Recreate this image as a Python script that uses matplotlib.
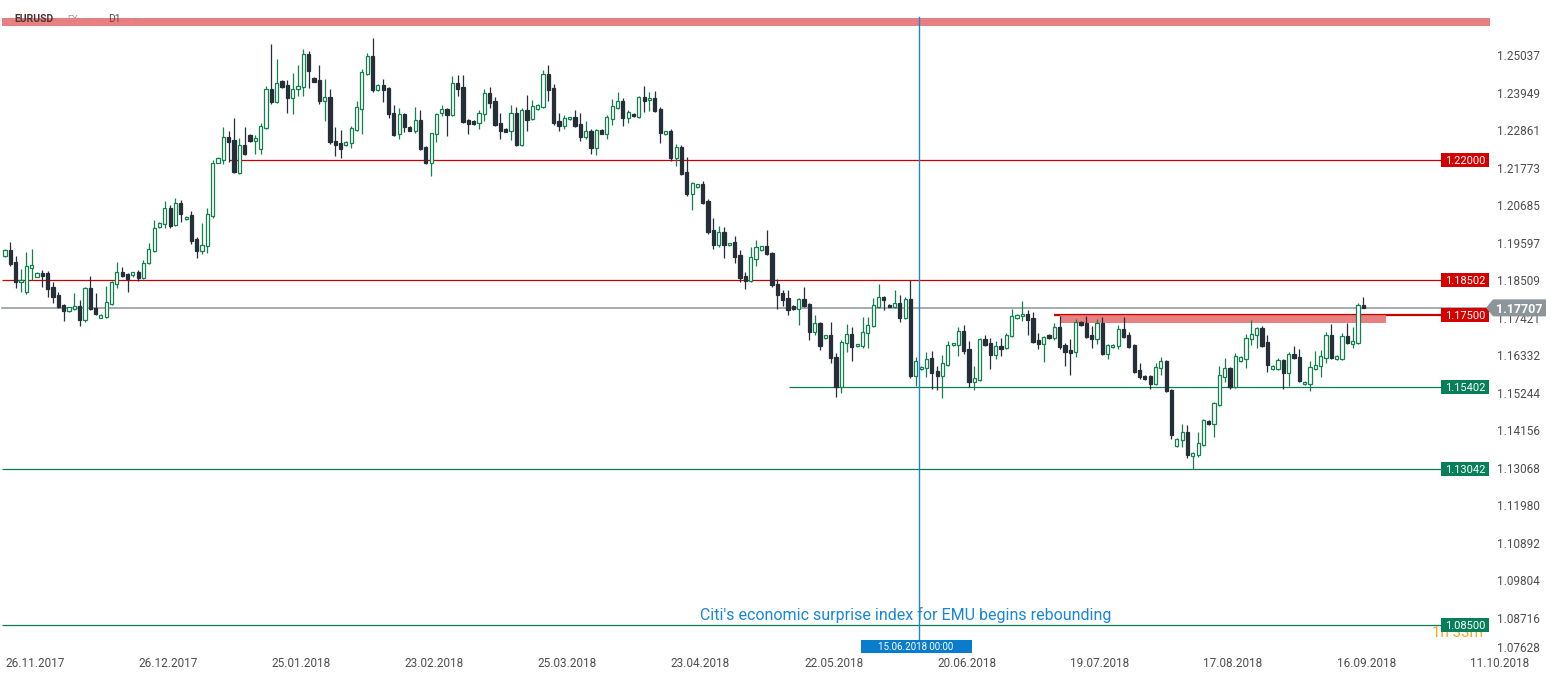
import matplotlib
matplotlib.use("Agg")
import matplotlib.pyplot as plt
import matplotlib.transforms as mtransforms
from matplotlib.patches import Rectangle, Polygon
import numpy as np

plt.rcParams['font.family'] = ['Roboto', 'DejaVu Sans']

#------------------- DATA ----------------------------------------
# EURUSD daily candles (xStation style, Sunday bars included)
opens = [1.1921, 1.1939, 1.1904, 1.1846, 1.1817, 1.1886, 1.1860, 1.1872, 1.1872, 1.1831,
         1.1808, 1.1779, 1.1762, 1.1767, 1.1776, 1.1736, 1.1828, 1.1770, 1.1741, 1.1744,
         1.1782, 1.1840, 1.1875, 1.1869, 1.1866, 1.1875, 1.1857, 1.1901, 1.1936, 1.2005,
         1.2014, 1.2060, 1.2011, 1.2075, 1.2028, 1.2040, 1.1970, 1.1936, 1.1950, 1.2037,
         1.2192, 1.2199, 1.2265, 1.2258, 1.2163, 1.2244, 1.2272, 1.2256, 1.2231, 1.2292,
         1.2405, 1.2368, 1.2429, 1.2417, 1.2379, 1.2405, 1.2411, 1.2507, 1.2437, 1.2432,
         1.2371, 1.2382, 1.2255, 1.2249, 1.2243, 1.2249, 1.2287, 1.2347, 1.2449, 1.2501,
         1.2403, 1.2417, 1.2408, 1.2336, 1.2275, 1.2333, 1.2295, 1.2284, 1.2316, 1.2237,
         1.2191, 1.2275, 1.2336, 1.2347, 1.2330, 1.2423, 1.2411, 1.2316, 1.2313, 1.2307,
         1.2333, 1.2394, 1.2371, 1.2307, 1.2289, 1.2284, 1.2336, 1.2243, 1.2345, 1.2318,
         1.2347, 1.2353, 1.2449, 1.2408, 1.2313, 1.2298, 1.2318, 1.2324, 1.2304, 1.2266,
         1.2284, 1.2234, 1.2287, 1.2275, 1.2318, 1.2350, 1.2371, 1.2321, 1.2333, 1.2324,
         1.2382, 1.2374, 1.2379, 1.2347, 1.2275, 1.2284, 1.2205, 1.2237, 1.2165, 1.2101,
         1.2121, 1.2130, 1.2081, 1.1996, 1.1953, 1.1991, 1.1953, 1.1961, 1.1924, 1.1863,
         1.1849, 1.1912, 1.1939, 1.1950, 1.1930, 1.1840, 1.1814, 1.1799, 1.1776, 1.1767,
         1.1796, 1.1782, 1.1701, 1.1727, 1.1683, 1.1692, 1.1628, 1.1541, 1.1669, 1.1695,
         1.1660, 1.1660, 1.1698, 1.1718, 1.1773, 1.1802, 1.1779, 1.1773, 1.1785, 1.1741,
         1.1796, 1.1573, 1.1593, 1.1596, 1.1625, 1.1588, 1.1573, 1.1605, 1.1663, 1.1663,
         1.1704, 1.1651, 1.1556, 1.1562, 1.1680, 1.1669, 1.1634, 1.1660, 1.1654, 1.1689,
         1.1741, 1.1747, 1.1753, 1.1741, 1.1678, 1.1666, 1.1692, 1.1683, 1.1715, 1.1663,
         1.1649, 1.1643, 1.1730, 1.1727, 1.1692, 1.1680, 1.1727, 1.1637, 1.1657, 1.1660,
         1.1709, 1.1692, 1.1663, 1.1591, 1.1573, 1.1573, 1.1550, 1.1596, 1.1617, 1.1533,
         1.1370, 1.1387, 1.1411, 1.1341, 1.1344, 1.1373, 1.1443, 1.1434, 1.1489, 1.1570,
         1.1596, 1.1541, 1.1617, 1.1622, 1.1680, 1.1692, 1.1712, 1.1672, 1.1593, 1.1593,
         1.1620, 1.1582, 1.1637, 1.1628, 1.1550, 1.1550, 1.1593, 1.1602, 1.1625, 1.1692,
         1.1622, 1.1622, 1.1689, 1.1666, 1.1669, 1.1779]
highs = [1.1941, 1.1962, 1.1921, 1.1883, 1.1933, 1.1941, 1.1875, 1.1881, 1.1878, 1.1846,
         1.1817, 1.1782, 1.1773, 1.1814, 1.1794, 1.1831, 1.1863, 1.1814, 1.1753, 1.1834,
         1.1849, 1.1904, 1.1889, 1.1872, 1.1875, 1.1881, 1.1910, 1.1959, 1.2026, 1.2020,
         1.2080, 1.2069, 1.2089, 1.2084, 1.2037, 1.2052, 1.1976, 1.2017, 1.2060, 1.2200,
         1.2208, 1.2294, 1.2284, 1.2320, 1.2262, 1.2295, 1.2275, 1.2272, 1.2306, 1.2414,
         1.2536, 1.2492, 1.2432, 1.2432, 1.2452, 1.2475, 1.2521, 1.2516, 1.2440, 1.2475,
         1.2434, 1.2405, 1.2295, 1.2287, 1.2255, 1.2298, 1.2371, 1.2463, 1.2510, 1.2553,
         1.2420, 1.2434, 1.2411, 1.2359, 1.2350, 1.2336, 1.2298, 1.2353, 1.2345, 1.2240,
         1.2278, 1.2336, 1.2359, 1.2350, 1.2443, 1.2446, 1.2446, 1.2318, 1.2316, 1.2345,
         1.2406, 1.2411, 1.2382, 1.2336, 1.2292, 1.2359, 1.2353, 1.2350, 1.2388, 1.2374,
         1.2362, 1.2461, 1.2475, 1.2420, 1.2336, 1.2330, 1.2324, 1.2345, 1.2336, 1.2313,
         1.2289, 1.2289, 1.2289, 1.2330, 1.2376, 1.2397, 1.2379, 1.2345, 1.2336, 1.2385,
         1.2414, 1.2397, 1.2400, 1.2353, 1.2284, 1.2289, 1.2246, 1.2243, 1.2208, 1.2136,
         1.2130, 1.2139, 1.2086, 1.2031, 1.2008, 1.2005, 1.1959, 1.1979, 1.1939, 1.1875,
         1.1947, 1.1967, 1.1950, 1.1997, 1.1933, 1.1854, 1.1822, 1.1822, 1.1779, 1.1799,
         1.1831, 1.1785, 1.1750, 1.1730, 1.1692, 1.1730, 1.1640, 1.1678, 1.1724, 1.1715,
         1.1666, 1.1744, 1.1744, 1.1799, 1.1840, 1.1805, 1.1782, 1.1822, 1.1808, 1.1802,
         1.1851, 1.1628, 1.1602, 1.1643, 1.1646, 1.1602, 1.1634, 1.1675, 1.1669, 1.1715,
         1.1721, 1.1675, 1.1602, 1.1683, 1.1692, 1.1683, 1.1675, 1.1683, 1.1698, 1.1767,
         1.1753, 1.1791, 1.1765, 1.1759, 1.1698, 1.1689, 1.1695, 1.1727, 1.1747, 1.1669,
         1.1680, 1.1739, 1.1733, 1.1747, 1.1718, 1.1739, 1.1744, 1.1666, 1.1665, 1.1721,
         1.1744, 1.1701, 1.1666, 1.1611, 1.1576, 1.1576, 1.1611, 1.1628, 1.1619, 1.1535,
         1.1393, 1.1434, 1.1431, 1.1353, 1.1411, 1.1448, 1.1446, 1.1498, 1.1602, 1.1625,
         1.1599, 1.1640, 1.1630, 1.1695, 1.1736, 1.1715, 1.1718, 1.1692, 1.1604, 1.1625,
         1.1622, 1.1643, 1.1660, 1.1651, 1.1558, 1.1617, 1.1646, 1.1649, 1.1701, 1.1724,
         1.1633, 1.1698, 1.1727, 1.1715, 1.1785, 1.1802]
lows = [1.1918, 1.1892, 1.1828, 1.1817, 1.1811, 1.1852, 1.1860, 1.1831, 1.1802, 1.1785,
        1.1770, 1.1732, 1.1759, 1.1765, 1.1718, 1.1730, 1.1765, 1.1750, 1.1741, 1.1741,
        1.1779, 1.1828, 1.1860, 1.1817, 1.1860, 1.1849, 1.1854, 1.1898, 1.1933, 1.2002,
        1.2002, 1.2002, 1.2008, 1.2020, 1.2026, 1.1956, 1.1915, 1.1927, 1.1930, 1.2031,
        1.2191, 1.2188, 1.2195, 1.2163, 1.2160, 1.2214, 1.2252, 1.2216, 1.2216, 1.2290,
        1.2362, 1.2365, 1.2409, 1.2336, 1.2333, 1.2385, 1.2385, 1.2408, 1.2426, 1.2362,
        1.2313, 1.2246, 1.2211, 1.2205, 1.2240, 1.2234, 1.2284, 1.2275, 1.2446, 1.2397,
        1.2400, 1.2368, 1.2321, 1.2269, 1.2260, 1.2281, 1.2284, 1.2278, 1.2228, 1.2188,
        1.2153, 1.2252, 1.2327, 1.2269, 1.2327, 1.2385, 1.2307, 1.2275, 1.2302, 1.2289,
        1.2313, 1.2350, 1.2298, 1.2260, 1.2281, 1.2258, 1.2240, 1.2240, 1.2284, 1.2316,
        1.2344, 1.2350, 1.2371, 1.2301, 1.2284, 1.2289, 1.2316, 1.2295, 1.2255, 1.2260,
        1.2217, 1.2214, 1.2275, 1.2260, 1.2301, 1.2347, 1.2298, 1.2307, 1.2324, 1.2321,
        1.2339, 1.2342, 1.2339, 1.2249, 1.2272, 1.2197, 1.2182, 1.2156, 1.2095, 1.2055,
        1.2118, 1.2072, 1.1985, 1.1941, 1.1947, 1.1915, 1.1950, 1.1901, 1.1846, 1.1825,
        1.1846, 1.1892, 1.1936, 1.1925, 1.1831, 1.1767, 1.1776, 1.1750, 1.1765, 1.1721,
        1.1773, 1.1678, 1.1692, 1.1649, 1.1680, 1.1611, 1.1512, 1.1524, 1.1643, 1.1617,
        1.1657, 1.1654, 1.1654, 1.1715, 1.1770, 1.1765, 1.1773, 1.1770, 1.1730, 1.1738,
        1.1567, 1.1544, 1.1591, 1.1570, 1.1535, 1.1532, 1.1509, 1.1602, 1.1660, 1.1631,
        1.1637, 1.1541, 1.1532, 1.1559, 1.1660, 1.1593, 1.1622, 1.1631, 1.1651, 1.1686,
        1.1738, 1.1733, 1.1692, 1.1669, 1.1651, 1.1614, 1.1680, 1.1678, 1.1651, 1.1602,
        1.1576, 1.1628, 1.1719, 1.1683, 1.1654, 1.1666, 1.1634, 1.1622, 1.1655, 1.1651,
        1.1683, 1.1655, 1.1582, 1.1564, 1.1562, 1.1535, 1.1547, 1.1576, 1.1527, 1.1390,
        1.1367, 1.1367, 1.1335, 1.1303, 1.1338, 1.1370, 1.1432, 1.1396, 1.1486, 1.1556,
        1.1535, 1.1538, 1.1614, 1.1596, 1.1663, 1.1654, 1.1657, 1.1585, 1.1591, 1.1590,
        1.1535, 1.1544, 1.1622, 1.1556, 1.1547, 1.1530, 1.1590, 1.1570, 1.1611, 1.1622,
        1.1620, 1.1620, 1.1666, 1.1654, 1.1666, 1.1770]
closes = [1.1939, 1.1898, 1.1846, 1.1852, 1.1892, 1.1895, 1.1872, 1.1863, 1.1825, 1.1802,
          1.1773, 1.1762, 1.1773, 1.1776, 1.1736, 1.1828, 1.1767, 1.1753, 1.1750, 1.1788,
          1.1846, 1.1875, 1.1863, 1.1854, 1.1875, 1.1857, 1.1901, 1.1941, 1.2002, 1.2017,
          1.2060, 1.2008, 1.2075, 1.2043, 1.2034, 1.1965, 1.1936, 1.1953, 1.2043, 1.2191,
          1.2205, 1.2265, 1.2253, 1.2165, 1.2243, 1.2217, 1.2255, 1.2263, 1.2298, 1.2405,
          1.2368, 1.2423, 1.2411, 1.2379, 1.2405, 1.2414, 1.2507, 1.2458, 1.2426, 1.2371,
          1.2382, 1.2252, 1.2243, 1.2231, 1.2252, 1.2292, 1.2353, 1.2455, 1.2501, 1.2403,
          1.2417, 1.2403, 1.2333, 1.2272, 1.2333, 1.2295, 1.2284, 1.2316, 1.2231, 1.2191,
          1.2278, 1.2333, 1.2347, 1.2330, 1.2423, 1.2405, 1.2310, 1.2304, 1.2304, 1.2336,
          1.2394, 1.2365, 1.2301, 1.2284, 1.2281, 1.2336, 1.2243, 1.2345, 1.2316, 1.2356,
          1.2359, 1.2449, 1.2403, 1.2307, 1.2298, 1.2321, 1.2324, 1.2298, 1.2266, 1.2284,
          1.2234, 1.2287, 1.2275, 1.2324, 1.2356, 1.2371, 1.2321, 1.2339, 1.2327, 1.2382,
          1.2371, 1.2379, 1.2342, 1.2278, 1.2284, 1.2205, 1.2237, 1.2159, 1.2101, 1.2133,
          1.2130, 1.2075, 1.1991, 1.1953, 1.1991, 1.1953, 1.1959, 1.1918, 1.1857, 1.1849,
          1.1918, 1.1947, 1.1950, 1.1927, 1.1837, 1.1808, 1.1793, 1.1765, 1.1767, 1.1796,
          1.1776, 1.1701, 1.1727, 1.1660, 1.1692, 1.1625, 1.1541, 1.1672, 1.1695, 1.1657,
          1.1666, 1.1701, 1.1721, 1.1779, 1.1802, 1.1793, 1.1773, 1.1785, 1.1741, 1.1796,
          1.1573, 1.1617, 1.1599, 1.1622, 1.1582, 1.1573, 1.1611, 1.1663, 1.1669, 1.1704,
          1.1646, 1.1556, 1.1567, 1.1680, 1.1663, 1.1634, 1.1660, 1.1651, 1.1692, 1.1747,
          1.1750, 1.1753, 1.1736, 1.1672, 1.1666, 1.1686, 1.1683, 1.1715, 1.1657, 1.1643,
          1.1640, 1.1730, 1.1721, 1.1686, 1.1680, 1.1727, 1.1637, 1.1663, 1.1663, 1.1709,
          1.1686, 1.1657, 1.1585, 1.1570, 1.1564, 1.1550, 1.1599, 1.1617, 1.1530, 1.1402,
          1.1390, 1.1411, 1.1344, 1.1350, 1.1379, 1.1446, 1.1434, 1.1495, 1.1576, 1.1596,
          1.1541, 1.1631, 1.1628, 1.1683, 1.1695, 1.1712, 1.1660, 1.1605, 1.1602, 1.1620,
          1.1582, 1.1637, 1.1625, 1.1559, 1.1556, 1.1599, 1.1605, 1.1631, 1.1692, 1.1625,
          1.1631, 1.1689, 1.1669, 1.1675, 1.1779, 1.17707]

# date labels every 25 bars (left aligned on their bar)
date_labels = ['26.11.2017', '26.12.2017', '25.01.2018', '23.02.2018', '25.03.2018',
               '23.04.2018', '22.05.2018', '20.06.2018', '19.07.2018', '17.08.2018',
               '16.09.2018', '11.10.2018']
date_step = 25

# price scale labels on the right
price_ticks = [1.25037, 1.23949, 1.22861, 1.21773, 1.20685, 1.19597, 1.18509, 1.17421,
               1.16332, 1.15244, 1.14156, 1.13068, 1.11980, 1.10892, 1.09804, 1.08716, 1.07628]

# horizontal levels: value, bar where the line starts, resistance / support
level_values = [1.22000, 1.18502, 1.17500, 1.15402, 1.13042, 1.08500]
level_starts = [42, -0.6, 197, 147.2, -0.6, -0.6]
level_kinds = ['res', 'res', 'res', 'sup', 'sup', 'sup']

last_price = 1.17707
zone_low, zone_high = 1.1728, 1.1749      # red zone under 1.175
zone_from, zone_to = 198.1, 259.3
band_low, band_high = 1.2588, 1.2611      # red band at the top

event_bar = 171                            # 15.06.2018
event_label = '15.06.2018 00:00'
event_text = "Citi's economic surprise index for EMU begins rebounding"
timer_text = '1h 33m'

#------------------- STYLE ----------------------------------------
GREEN = '#13804f'
DARK = '#262e37'
RED_LINE = '#c80000'
RED_BOX = '#d40000'
GREEN_LINE = '#0b7d57'
GREEN_BOX = '#07805a'
BLUE = '#1a86d8'
GRAY = '#8d959a'
TXT = '#4d4d4d'

W, H = 1557, 679
fig = plt.figure(figsize=(W / 100, H / 100), dpi=100)
ax = fig.add_axes([0, 23 / H, 1490 / W, 656 / H])
ax.set_xlim(-0.94, 278.8)
ax.set_ylim(1.07611, 1.26635)
for s in ax.spines.values():
    s.set_visible(False)
ax.set_yticks([])

PY = (1.26635 - 1.07611) / 656      # price per pixel
PXB = (278.8 + 0.94) / 1490         # bars per pixel
ax_y = mtransforms.blended_transform_factory(ax.transAxes, ax.transData)
x_ax = mtransforms.blended_transform_factory(ax.transData, ax.transAxes)

#------------------- CANDLES ----------------------------------------
o = np.array(opens); h = np.array(highs); l = np.array(lows); c = np.array(closes)
idx = np.arange(len(o))
up = c >= o
body_low = np.minimum(o, c)
body_h = np.maximum(np.abs(c - o), 0.00012)

ax.vlines(idx[up], l[up], h[up], color=GREEN, lw=0.9, zorder=3)
ax.vlines(idx[~up], l[~up], h[~up], color=DARK, lw=0.9, zorder=3)
ax.bar(idx[up], body_h[up], bottom=body_low[up], width=0.6, facecolor='white',
       edgecolor=GREEN, linewidth=0.9, zorder=4)
ax.bar(idx[~up], body_h[~up], bottom=body_low[~up], width=0.6, facecolor=DARK,
       edgecolor=DARK, linewidth=0.9, zorder=4)

#------------------- LEVELS ----------------------------------------
box_x0 = 1441 / 1490
box_w = 48 / 1490
line_end = 269.8
for val, start, kind in zip(level_values, level_starts, level_kinds):
    lc = RED_LINE if kind == 'res' else GREEN_LINE
    bc = RED_BOX if kind == 'res' else GREEN_BOX
    lw = 1.6 if val == 1.175 else 0.9
    ax.hlines(val, start, line_end, color=lc, lw=lw, zorder=2)
    ax.add_patch(Rectangle((box_x0, val - 7 * PY), box_w, 14 * PY, transform=ax_y,
                           facecolor=bc, edgecolor='none', zorder=7, clip_on=False))
    ax.text(box_x0 + box_w / 2, val, '%.5f' % val, transform=ax_y, ha='center',
            va='center_baseline', color='white', fontsize=8, zorder=8, clip_on=False)

# red zone under 1.175 and the band at the top
ax.add_patch(Rectangle((zone_from, zone_low), zone_to - zone_from, zone_high - zone_low,
                       facecolor='#e57373', edgecolor='none', alpha=0.9, zorder=2))
ax.axhspan(band_low, band_high, xmin=2 / 1490, xmax=1, color='#e57373', alpha=0.9,
           lw=0, zorder=6)

# current price line and label
ax.axhline(last_price, xmin=2 / 1490, color=GRAY, lw=1.1, zorder=2)
pts = [(1486 / 1490, last_price), (1493 / 1490, last_price + 8.5 * PY),
       (1546 / 1490, last_price + 8.5 * PY), (1546 / 1490, last_price - 8.5 * PY),
       (1493 / 1490, last_price - 8.5 * PY)]
ax.add_patch(Polygon(pts, closed=True, transform=ax_y, facecolor=GRAY, edgecolor='none',
                     zorder=9, clip_on=False))
ax.text(1519 / 1490, last_price, '%.5f' % last_price, transform=ax_y, ha='center',
        va='center_baseline', color='white', fontsize=9, fontweight='bold', zorder=10,
        clip_on=False)

# price scale
for i, p in enumerate(price_ticks):
    va = 'bottom' if i == len(price_ticks) - 1 else 'center_baseline'
    ax.text(1497 / 1490, p, '%.5f' % p, transform=ax_y, ha='left', va=va,
            color=TXT, fontsize=8.5, clip_on=False)

#------------------- EVENT ----------------------------------------
x_event = event_bar + 0.6
ax.axvline(x_event, ymin=16 / 656, ymax=639 / 656, color=BLUE, lw=1, zorder=6)
ax.add_patch(Rectangle((x_event - 58 * PXB, 3 / 656), 111 * PXB, 13 / 656, transform=x_ax,
                       facecolor='#0a7ccc', edgecolor='none', zorder=7))
ax.text(x_event - 3 * PXB, 9.5 / 656, event_label, transform=x_ax, ha='center',
        va='center_baseline', color='white', fontsize=7, zorder=8)
ax.text(x_event - 13 * PXB, 1.0880, event_text, ha='center', va='center', color=BLUE,
        fontsize=11.5, zorder=6)

# candle timer, partly hidden behind the 1.085 box
ax.text(267.9, 1.0828, timer_text, ha='left', va='center', color='#f5a623', fontsize=11,
        zorder=5, clip_on=True)

#------------------- HEADER ----------------------------------------
# drawn over the red band, tinted like in the platform
hy = 1 - 19.5 / 656
ax.text(14 / 1490, hy, 'EURUSD', transform=ax.transAxes, ha='left', va='center',
        fontsize=7.5, fontweight='bold', color='#4a3434', zorder=7)
ax.text(67 / 1490, hy, 'FX', transform=ax.transAxes, ha='left', va='center',
        fontsize=6.5, color='#c58a8a', zorder=7)
ax.text(84 / 1490, hy, '\u25be', transform=ax.transAxes, ha='left', va='center',
        fontsize=7, color='#c58a8a', zorder=7)
ax.text(108 / 1490, hy, 'D1', transform=ax.transAxes, ha='left', va='center',
        fontsize=7.5, color='#6b4646', zorder=7)
ax.text(135 / 1490, hy, '\u25be', transform=ax.transAxes, ha='left', va='center',
        fontsize=7, color='#c58a8a', zorder=7)

#------------------- DATE AXIS ----------------------------------------
ax.set_xticks(np.arange(len(date_labels)) * date_step)
ax.set_xticklabels(date_labels, fontsize=8.5, color=TXT)
for lab in ax.get_xticklabels():
    lab.set_horizontalalignment('left')
ax.tick_params(axis='x', length=0, pad=0.5)

fig.savefig('out.png', dpi=100, facecolor='white')
